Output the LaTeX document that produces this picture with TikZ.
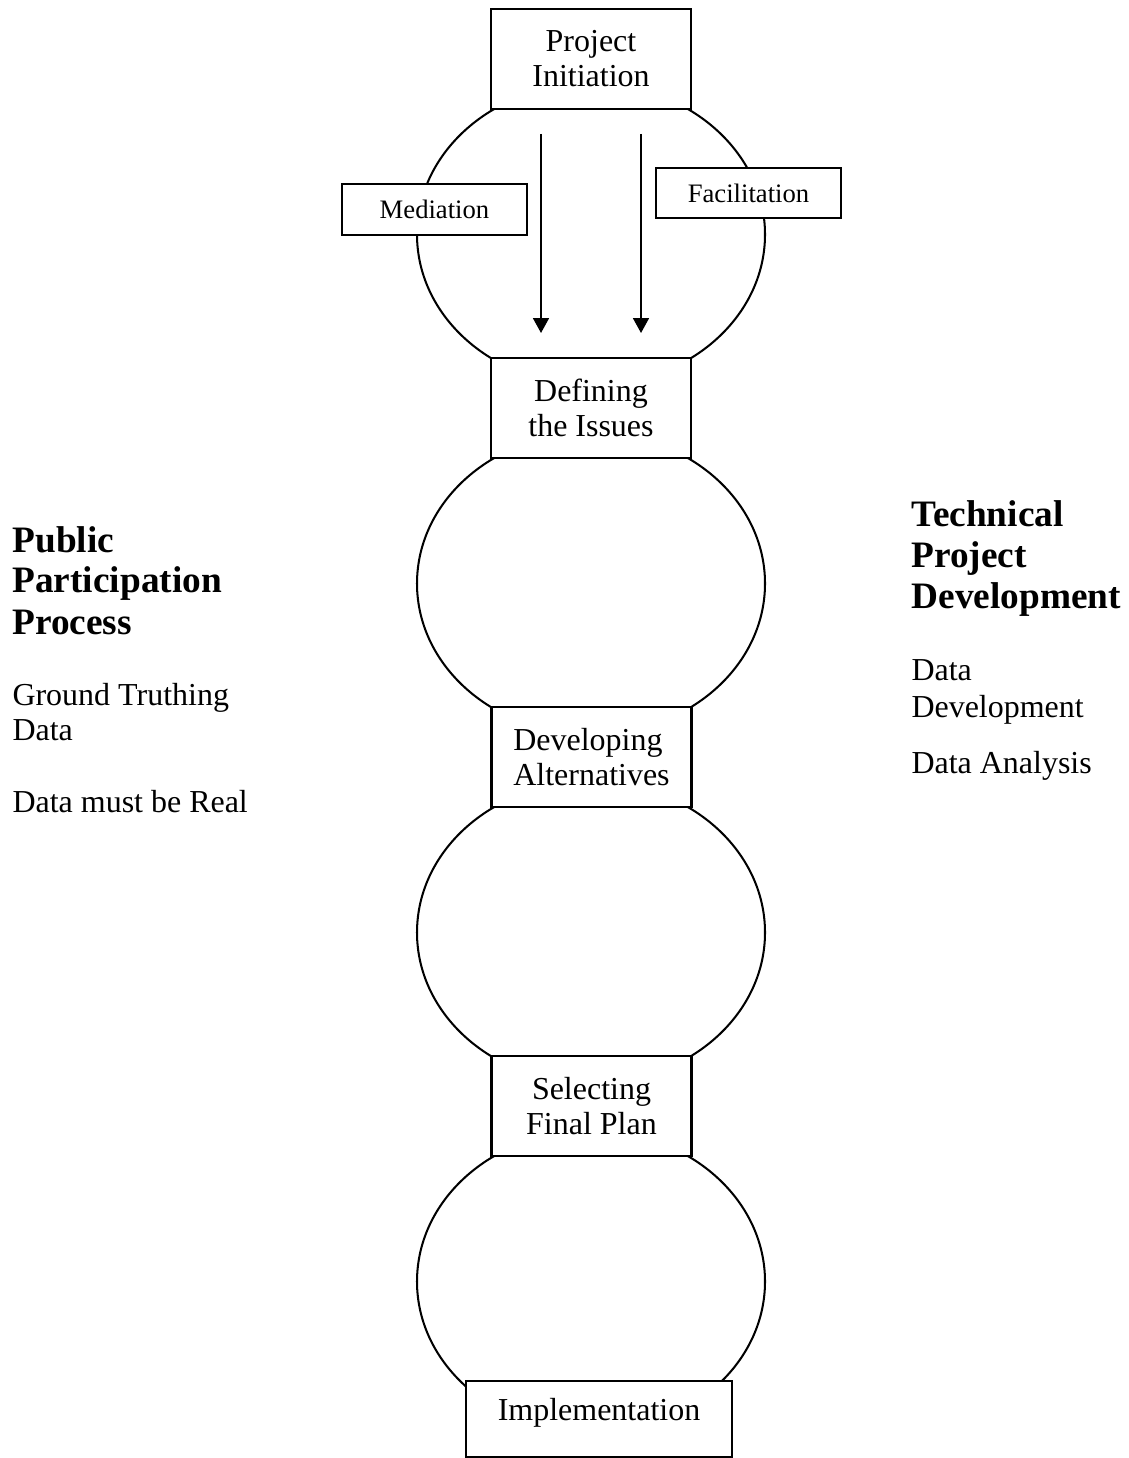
\documentclass[tikz,border=0pt]{standalone}
\usepackage{fontspec}
\setmainfont{Liberation Serif}
\usetikzlibrary{shapes.geometric,arrows.meta}
\newlength\pxu
\setlength\pxu{0.394pt}
\begin{document}
\begin{tikzpicture}[x=0.394pt,y=-0.394pt,
  outline/.style={draw=black, line width=0.8pt},
  stage/.style={outline, ellipse, minimum width=348\pxu, minimum height=302\pxu, inner sep=0pt},
  stepbox/.style={outline, fill=white, rectangle, minimum width=200\pxu, minimum height=100\pxu,
    inner sep=0pt, font=\fontsize{12.6}{13.8}\selectfont},
  tagbox/.style={outline, fill=white, rectangle, minimum width=185\pxu, minimum height=51\pxu,
    inner sep=0pt, font=\fontsize{10.5}{12}\selectfont},
  body/.style={anchor=base west, inner sep=0pt, font=\fontsize{12.6}{13.8}\selectfont},
  head/.style={anchor=base west, inner sep=0pt, font=\fontsize{14.7}{16.1}\selectfont\bfseries},
  flow/.style={line width=0.7pt, -{Triangle[width=6.3pt,length=5.9pt]}}
]
\useasboundingbox (0,0) rectangle (1128,1458);

% phase bubbles behind the stage boxes
\node[stage] (e1) at (591,234.5) {};
\node[stage] (e2) at (591,583.5) {};
\node[stage] (e3) at (591,932.5) {};
\node[stage] (e4) at (591,1281.5) {};

% flow arrows inside the first bubble
\coordinate (m1) at (541,134);
\coordinate (m2) at (541,333);
\coordinate (f1) at (641,134);
\coordinate (f2) at (641,333);
\draw[flow] (m1) -- (m2);
\draw[flow] (f1) -- (f2);

% side tags of the first bubble
\node[tagbox] (med) at (434.5,209.5) {Mediation};
\node[tagbox, minimum height=50\pxu] (fac) at (748.5,193) {Facilitation};

% stage boxes
\node[stepbox, align=center] (init) at (591,59) {Project\\Initiation};
\node[stepbox, align=center] (issues) at (591,408) {Defining\\the Issues};
\node[stepbox, align=left] (alt) at (591.5,757) {Developing\\Alternatives};
\node[stepbox, align=center] (plan) at (591.5,1106) {Selecting\\Final Plan};
\node[outline, fill=white, rectangle, minimum width=266\pxu, minimum height=76\pxu, inner sep=0pt]
  (impl) at (599,1419) {};
\node[body, anchor=base] (impltext) at (599,1420) {Implementation};

% public participation column
\node[head] (pp1) at (12,552) {Public};
\node[head] (pp2) at (12,592) {Participation};
\node[head] (pp3) at (12,634) {Process};
\node[body] (pp4) at (12,705) {Ground Truthing};
\node[body] (pp5) at (12,740) {Data};
\node[body] (pp6) at (12,812) {Data must be Real};

% technical development column
\node[head] (td1) at (911,526) {Technical};
\node[head] (td2) at (911,567) {Project};
\node[head] (td3) at (911,608) {Development};
\node[body] (td4) at (911,680) {Data};
\node[body] (td5) at (911,717) {Development};
\node[body] (td6) at (911,773) {Data Analysis};
\end{tikzpicture}
\end{document}
